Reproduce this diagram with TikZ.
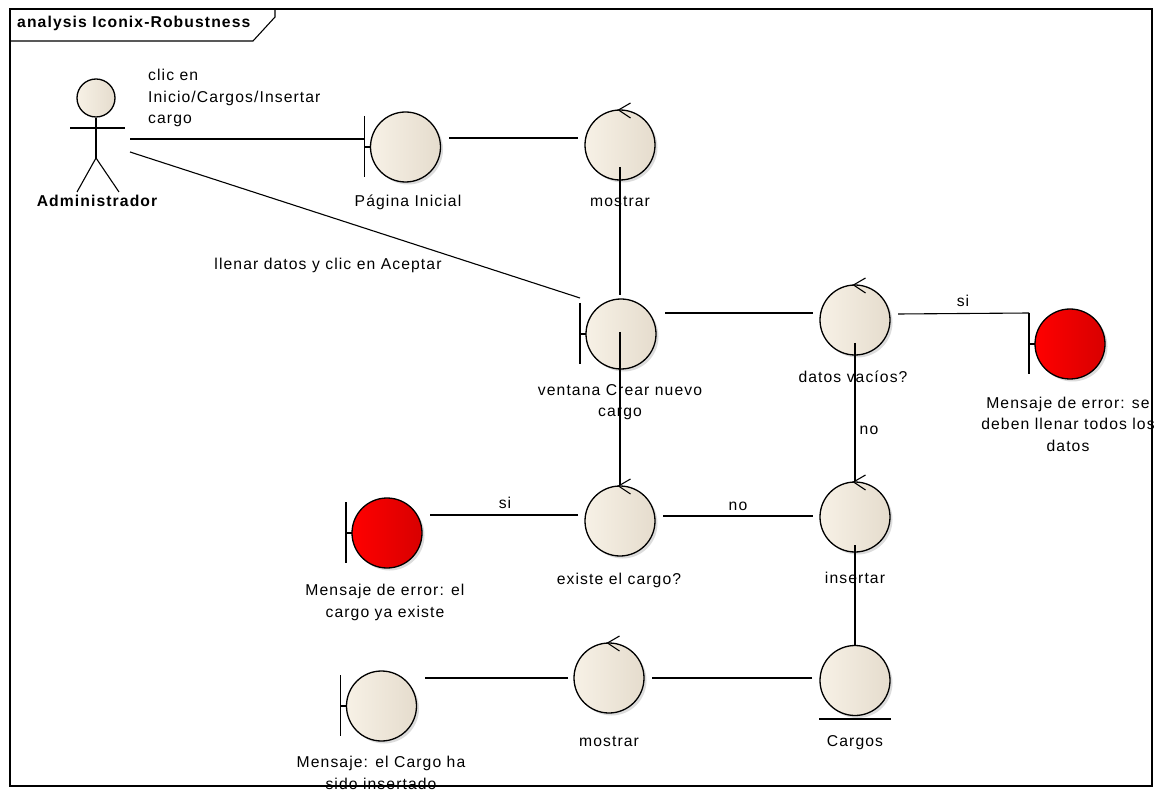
\documentclass[tikz,border=0pt]{standalone}
\usepackage{fontspec}
\newfontfamily\eafont{Liberation Sans}[LetterSpace=7]
\usetikzlibrary{calc,shadows}

\definecolor{beigeL}{RGB}{247,241,230}
\definecolor{beigeR}{RGB}{229,220,205}
\definecolor{redL}{RGB}{255,0,0}
\definecolor{redR}{RGB}{216,0,0}

\tikzset{
  conn/.style={line width=1.1pt, black},
  elem/.style={circle, minimum size=70pt, inner sep=0pt, outer sep=0pt,
    draw=black, line width=1.3pt, left color=beigeL, right color=beigeR,
    drop shadow={shadow xshift=2.5pt, shadow yshift=-2.5pt, opacity=0.3, fill=black!45}},
  errelem/.style={elem, left color=redL, right color=redR},
  lbl/.style={font=\eafont\fontsize{15.7}{21.5}\selectfont, inner sep=0pt, anchor=base, align=center},
  lblb/.style={lbl, font=\eafont\bfseries\fontsize{15.7}{21.5}\selectfont},
}

% control: chevron on top of the circle
\newcommand\ctrlmark[1]{%
  \draw[conn] ([shift={(10.5,-7)}]#1.north) -- ([shift={(-1.5,0)}]#1.north)
    -- ([shift={(10.5,8)}]#1.north);}
% boundary: vertical bar on the left with a short stub
\newcommand\bndbar[1]{%
  \draw[conn] ([shift={(-41,-31)}]#1.center) -- ([shift={(-41,30)}]#1.center);
  \draw[conn] ([shift={(-41,0)}]#1.center) -- (#1.west);}

\begin{document}
\begin{tikzpicture}[x=1pt, y=-1pt]
\useasboundingbox (0,0) rectangle (1162,791);
\fill[white] (0,0) rectangle (1162,791);

% ---- actor ----
\node[circle, minimum size=38pt, inner sep=0pt, draw=black, line width=1.3pt,
      left color=beigeL, right color=beigeR] (actorhead) at (96,98) {};
\draw[conn] ([shift={(-26,30)}]actorhead.center) -- ([shift={(29,30)}]actorhead.center);
\draw[conn] (actorhead.south) -- ([shift={(0,60)}]actorhead.center) coordinate (hip);
\draw[conn] ([shift={(-19,94)}]actorhead.center) -- (hip) -- ([shift={(23,94)}]actorhead.center);
\node[lblb] (actorlbl) at (97,207) {Administrador};

% ---- elements ----
\node[elem]    (pagina)   at (405.5,147) {};
\node[elem]    (mostrarA) at (620,145) {};
\node[elem]    (ventana)  at (621,334) {};
\node[elem]    (datos)    at (855,320) {};
\node[errelem] (err2)     at (1070,344) {};
\node[errelem] (err1)     at (387,533) {};
\node[elem]    (existe)   at (620,521) {};
\node[elem]    (insertar) at (855,517) {};
\node[elem]    (mostrarB) at (609,678) {};
\node[elem]    (cargos)   at (855,680.5) {};
\node[elem]    (msg)      at (381.5,706) {};

\bndbar{pagina}
\bndbar{ventana}
\bndbar{err2}
\bndbar{err1}
\bndbar{msg}
\ctrlmark{mostrarA}
\ctrlmark{datos}
\ctrlmark{existe}
\ctrlmark{insertar}
\ctrlmark{mostrarB}
\draw[conn] ([shift={(-36,38.5)}]cargos.center) -- ([shift={(36,38.5)}]cargos.center);

% ---- connectors ----
\draw[conn] ($(actorhead)+(34,41)$) -- ($(pagina)+(-41.5,-8)$);
\draw[conn] ($(pagina)+(43.5,-9)$) -- ($(mostrarA)+(-42,-7)$);
\draw[conn] ($(mostrarA)+(0,22)$) -- ($(ventana)+(-1,-39)$);
\draw[conn] ($(actorhead)+(34,54)$) -- ($(ventana)+(-41,-36)$);
\draw[conn] ($(ventana)+(44,-21)$) -- ($(datos)+(-42,-7)$);
\draw[conn] ($(datos)+(43,-6)$) -- ($(err2)+(-41,-31)$);
\draw[conn] ($(ventana)+(-1,-2)$) -- ($(existe)+(0,-36)$);
\draw[conn] ($(existe)+(-42,-6)$) -- ($(err1)+(43,-18)$);
\draw[conn] ($(existe)+(43,-5)$) -- ($(insertar)+(-42,-1)$);
\draw[conn] ($(datos)+(0,23)$) -- ($(insertar)+(0,-36)$);
\draw[conn] ($(insertar)+(0,28)$) -- ($(cargos)+(0,-35)$);
\draw[conn] ($(cargos)+(-43,-2.5)$) -- ($(mostrarB)+(43,0)$);
\draw[conn] ($(mostrarB)+(-41,0)$) -- ($(msg)+(43.5,-28)$);

% ---- labels (multi-line labels sit on their last baseline) ----
\node[lbl, anchor=base west, align=left] (lblclic) at (148,124) {clic en\\Inicio/Cargos/Insertar\\cargo};
\node[lbl] (lblllenar) at (328,270) {llenar datos y clic en Aceptar};
\node[lbl] (lblpagina) at (408,207) {Página Inicial};
\node[lbl] (lblmostrarA) at (620,207) {mostrar};
\node[lbl] (lblventana) at (620,417) {ventana Crear nuevo\\cargo};
\node[lbl] (lbldatos) at (853,383) {datos vacíos?};
\node[lbl] (lblsiA) at (963,307) {si};
\node[lbl] (lblerr2) at (1068,451) {Mensaje de error: se\\deben llenar todos los\\datos};
\node[lbl] (lblnoA) at (869,435) {no};
\node[lbl] (lblsiB) at (505,508) {si};
\node[lbl] (lblnoB) at (738,510) {no};
\node[lbl] (lblerr1) at (385,617) {Mensaje de error: el\\cargo ya existe};
\node[lbl] (lblexiste) at (619,584) {existe el cargo?};
\node[lbl] (lblinsertar) at (855,583) {insertar};
\node[lbl] (lblmostrarB) at (609,746) {mostrar};
\node[lbl] (lblcargos) at (855,746) {Cargos};
\node[lbl] (lblmsg) at (381,789) {Mensaje: el Cargo ha\\sido insertado};

% ---- frame ----
\node[lblb, anchor=base west] (title) at (17,28) {analysis Iconix-Robustness};
\draw[line width=1.1pt] (10,41) -- (253,41) -- (275,17) -- (275,9);
\draw[line width=1.1pt] (10,9) rectangle (1152,786);
\end{tikzpicture}
\end{document}
